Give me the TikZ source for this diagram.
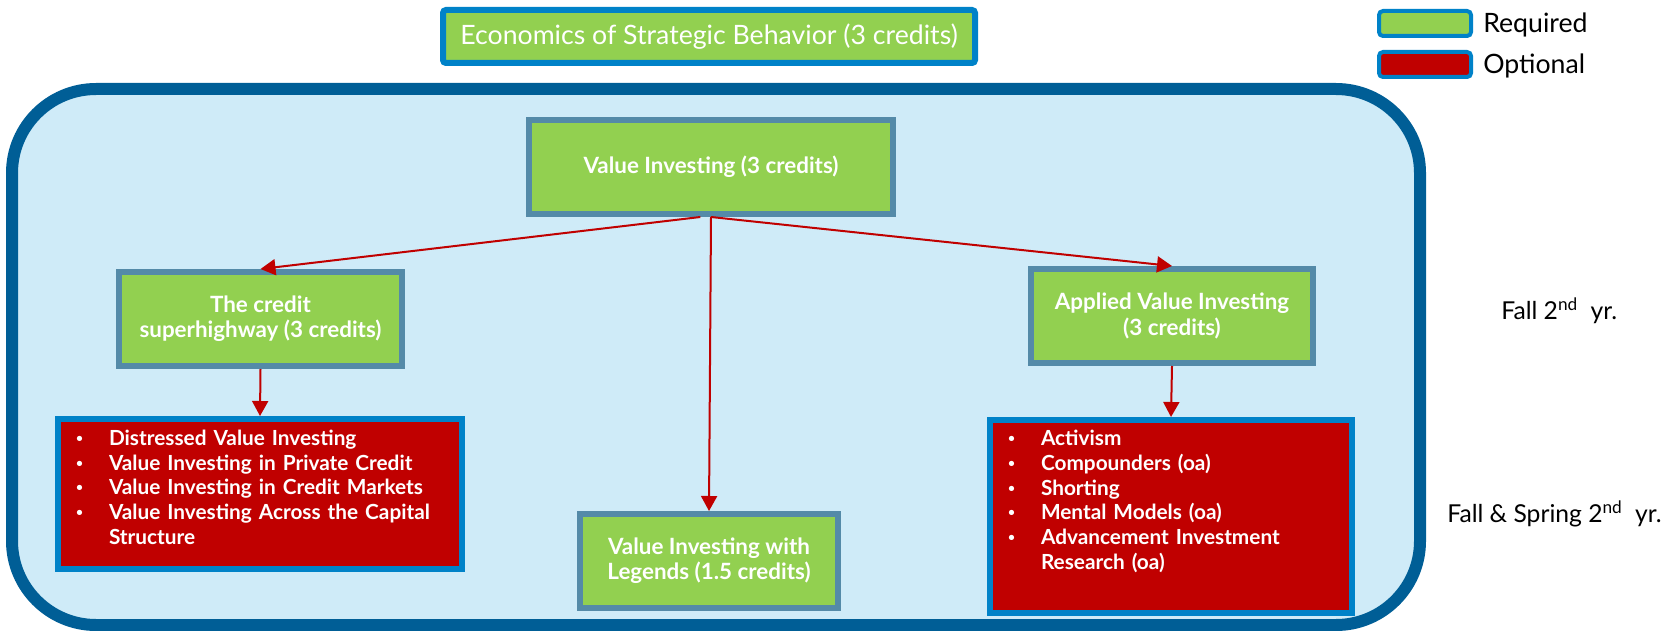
\documentclass[tikz,border=0pt]{standalone}
\usepackage{fontspec}
\setmainfont{Lato}
\usetikzlibrary{arrows.meta}

\definecolor{reqgreen}{RGB}{146,208,80}
\definecolor{optred}{RGB}{192,0,0}
\definecolor{framefill}{RGB}{207,235,248}
\definecolor{framedark}{RGB}{0,94,150}
\definecolor{boxedge}{RGB}{84,138,168}
\definecolor{brightblue}{RGB}{0,130,200}

\newlength{\pix}
\setlength{\pix}{0.75pt}
\newcommand{\itm}{\makebox[33\pix][l]{\raisebox{2.4pt}{\fontsize{9pt}{9pt}\selectfont\textbullet}}}

\begin{document}
\begin{tikzpicture}[
		x=0.75pt, y=-0.75pt,
		course/.style={rectangle, draw=boxedge, fill=reqgreen, line width=6\pix, text=white, align=center, font=\fontsize{16.8pt}{19pt}\selectfont\bfseries},
		electives/.style={rectangle, draw=brightblue, fill=optred, line width=6\pix, text=white, align=left, inner xsep=18\pix, font=\fontsize{15.6pt}{18.5pt}\selectfont\bfseries},
		prereq/.style={-{Triangle[width=12pt,length=11.25pt]}, draw=optred, line width=1.5pt},
		key/.style={rectangle, draw=brightblue, line width=4\pix, rounded corners=4\pix, minimum width=92\pix, minimum height=25\pix},
		term/.style={inner sep=0pt, font=\fontsize{18.5pt}{23pt}\selectfont}
		]
		\useasboundingbox (0,0) rectangle (1670,631);
		\draw[draw=framedark, fill=framefill, line width=12\pix, rounded corners=84\pix] (12,89) rectangle (1420,625);

		\node[rectangle, draw=brightblue, fill=reqgreen, line width=6\pix, rounded corners=3\pix, minimum width=532\pix, minimum height=53\pix, text=white, font=\fontsize{20pt}{24pt}\selectfont] (econ) at (709,36.5) {Economics of Strategic Behavior (3 credits)};

		\node[key, fill=reqgreen] (keyreq) at (1425,23.5) {};
		\node[key, fill=optred] (keyopt) at (1425,64.5) {};
		\node[anchor=west, inner sep=0pt, font=\fontsize{20pt}{24pt}\selectfont] (reqlabel) at (1483,24.5) {Required};
		\node[anchor=west, inner sep=0pt, font=\fontsize{20pt}{24pt}\selectfont] (optlabel) at (1483,65.5) {Optional};

		\node[course, minimum width=364\pix, minimum height=94\pix] (vi) at (711,167) {Value Investing (3 credits)};
		\node[course, minimum width=283\pix, minimum height=94\pix] (credit) at (260.5,319) {The credit\\superhighway (3 credits)};
		\node[course, minimum width=258\pix, minimum height=94\pix] (legends) at (709,561) {Value Investing with\\Legends (1.5 credits)};
		\node[course, minimum width=282\pix, minimum height=94\pix] (applied) at (1172,316) {Applied Value Investing\\(3 credits)};

		\node[electives, text width=368\pix, minimum height=150\pix] (creditel) at (260,494) {
			\itm Distressed Value Investing\\
			\itm Value Investing in Private Credit\\
			\itm Value Investing in Credit Markets\\
			\itm Value Investing Across the Capital\\
			\hspace*{33\pix}Structure\\[-11\pix]
			\mbox{}};
		\node[electives, text width=326\pix, minimum height=193\pix] (appliedel) at (1171,516.5) {
			\itm Activism\\
			\itm Compounders (oa)\\
			\itm Shorting\\
			\itm Mental Models (oa)\\
			\itm Advancement Investment\\
			\hspace*{33\pix}Research (oa)\\[8.6\pix]
			\mbox{}};

		\draw[prereq] ([xshift=-8pt]vi.south) -- (credit.north);
		\draw[prereq] (vi.south) -- (legends.north);
		\draw[prereq] (vi.south) -- (applied.north);
		\draw[prereq] (credit.south) -- (creditel.north);
		\draw[prereq] (applied.south) -- (appliedel.north);

		\node[term, anchor=base west] (fallone) at (1501,319) {Fall 2\textsuperscript{nd}\ \ yr.};
		\node[term, anchor=base east] (fallspring) at (1662,522) {Fall \& Spring 2\textsuperscript{nd}\ \ yr.};
		\end{tikzpicture}
\end{document}
